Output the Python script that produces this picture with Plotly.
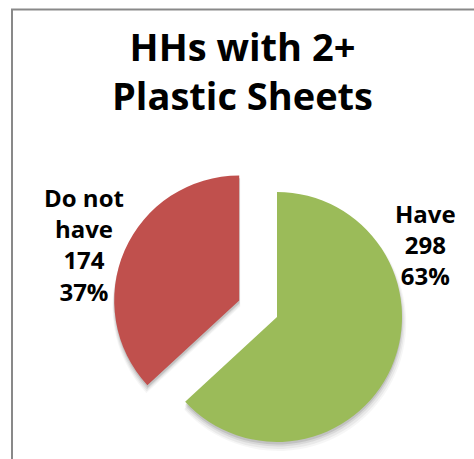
import math
import textwrap
import plotly.graph_objects as go

# Chart data
chart_title = ["HHs with 2+", "Plastic Sheets"]
categories = ["Have", "Do not have"]
households = [298, 174]
slice_colors = ["#9BBB59", "#C0504D"]
slice_pull = [0.0, 0.33]

W, H = 474, 459
R = 125             # pie radius (px)
CX, CY = 277, 317   # centre of the un-exploded pie (px)
FONT = "Open Sans"
CLEAR = "rgba(0,0,0,0)"


def fx(x):
    return x / W


def fy(y):
    return 1 - y / H


def pie_domain(cx, cy, r):
    return dict(x=[fx(cx - r), fx(cx + r)], y=[fy(cy + r), fy(cy - r)])


total = sum(households)
fractions = [v / total for v in households]

# mid-angle of every slice, clockwise from 12 o'clock
mid_angles = []
acc = 0.0
for f in fractions:
    mid_angles.append(2 * math.pi * (acc + f / 2))
    acc += f

# centre of each slice after exploding it outwards
centres = []
for p, a in zip(slice_pull, mid_angles):
    centres.append((CX + p * R * math.sin(a), CY - p * R * math.cos(a)))


def slice_trace(idx, colour, cx, cy, r):
    colours = [CLEAR] * len(households)
    colours[idx] = colour
    return go.Pie(
        labels=categories,
        values=households,
        sort=False,
        direction="clockwise",
        rotation=0,
        marker=dict(colors=colours, line=dict(width=0)),
        textinfo="none",
        hoverinfo="label+value+percent" if colour != CLEAR else "skip",
        domain=pie_domain(cx, cy, r),
        showlegend=False,
    )


fig = go.Figure()

# soft drop shadow under each slice
shadow_layers = [(3, 6.0, 3, 0.035), (2, 5.0, 2, 0.05), (1, 3.5, 1, 0.07), (0.5, 2.5, 0, 0.10)]
for i, (cx, cy) in enumerate(centres):
    for dx, dy, dr, alpha in shadow_layers:
        fig.add_trace(slice_trace(i, f"rgba(0,0,0,{alpha})", cx + dx * 0.4, cy + dy, R + dr))

# the slices themselves
for i, (cx, cy) in enumerate(centres):
    fig.add_trace(slice_trace(i, slice_colors[i], cx, cy, R))

# data labels
label_pos = [(425, 245), (84, 245)]
for cat, val, f, (lx, ly) in zip(categories, households, fractions, label_pos):
    txt = "<br>".join(textwrap.wrap(cat, 6) + [str(val), f"{round(100 * f)}%"])
    fig.add_annotation(
        x=fx(lx), y=fy(ly), xref="paper", yref="paper",
        xanchor="center", yanchor="middle", showarrow=False,
        text=txt, align="center",
        font=dict(family=FONT, size=24, color="#000000", weight="bold"),
    )

# title
fig.add_annotation(
    x=fx(243), y=fy(71), xref="paper", yref="paper",
    xanchor="center", yanchor="middle", showarrow=False,
    text="<br>".join(chart_title), align="center",
    font=dict(family=FONT, size=38, color="#000000", weight="bold"),
)

# chart frame
fig.add_shape(
    type="rect", xref="paper", yref="paper",
    x0=fx(12), y0=fy(9.5), x1=fx(490), y1=fy(480),
    line=dict(color="#898989", width=2), fillcolor=CLEAR,
)

fig.update_layout(
    width=W, height=H,
    margin=dict(l=0, r=0, t=0, b=0),
    paper_bgcolor="white",
    plot_bgcolor="white",
)

fig.write_html("out.html")
